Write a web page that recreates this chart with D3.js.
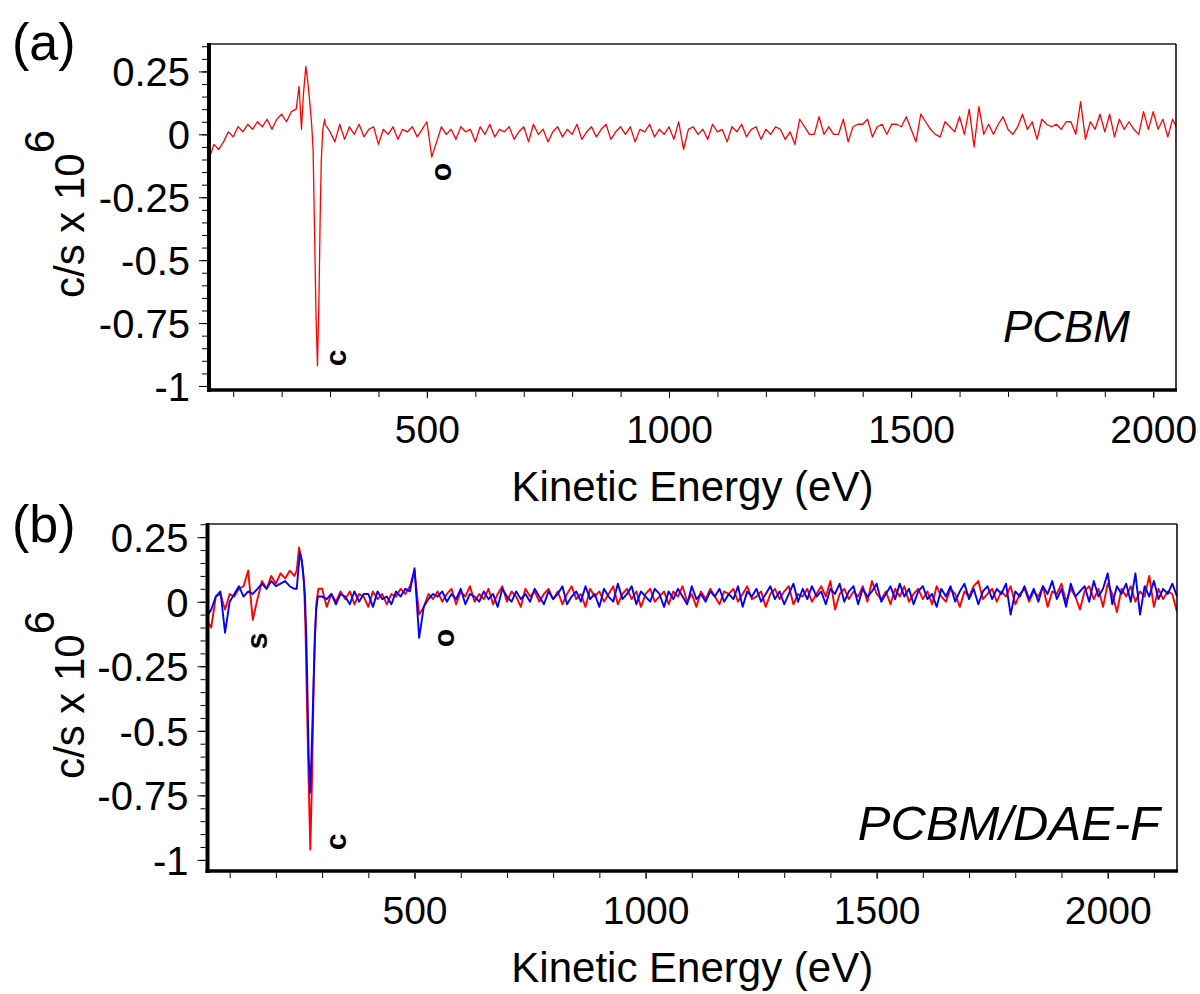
<!DOCTYPE html>
<html>
<head>
<meta charset="utf-8">
<script src="https://cdn.jsdelivr.net/npm/d3@7"></script>
<style>
    body { margin: 0; background: #fff; }
    svg text { font-family: "Liberation Sans", Arial, sans-serif; fill: #000; }
</style>
</head>
<body>
<svg id="chart" width="1200" height="994"></svg>
<script>
// energy grid of the sampled spectra (eV)
const gridStart = 50;
const gridStep = 10;

// (a) PCBM, one value per grid step, 50 .. 2050 eV
const pcbmValues = [
    -0.10, -0.04, -0.06, -0.03, 0.01, -0.01, 0.03, 0.01, 0.04, 0.02,
    0.05, 0.03, 0.06, 0.02, 0.06, 0.08, 0.05, 0.09, 0.10, 0.10,
    0.27, 0.14, -0.39, -0.66, 0.04, 0.01, -0.03, 0.04, -0.02, 0.03,
    0.00, 0.04, -0.01, 0.02, 0.03, -0.04, 0.02, 0.00, 0.03, -0.02,
    0.02, 0.01, 0.03, -0.01, 0.02, 0.05, -0.09, -0.03, 0.03, 0.00,
    0.02, -0.02, 0.03, 0.01, 0.02, -0.03, 0.03, 0.00, 0.04, -0.01,
    0.02, 0.01, 0.03, -0.02, 0.01, 0.03, -0.03, 0.04, 0.00, 0.02,
    -0.03, 0.01, 0.03, -0.01, 0.02, 0.00, 0.04, -0.02, 0.01, 0.03,
    -0.01, 0.02, 0.04, -0.02, 0.01, 0.03, 0.00, 0.03, -0.03, 0.02,
    0.01, 0.04, -0.01, 0.02, 0.00, 0.03, -0.02, 0.05, -0.06, 0.02,
    0.03, 0.00, 0.02, -0.02, 0.04, 0.01, 0.02, -0.03, 0.03, 0.01,
    0.04, -0.01, 0.02, 0.03, -0.02, 0.02, 0.00, 0.03, 0.02, -0.02,
    0.01, -0.04, 0.06, 0.03, 0.00, 0.00, 0.07, 0.00, 0.03, 0.00,
    0.00, 0.06, -0.03, 0.03, 0.04, 0.04, 0.06, -0.01, 0.03, 0.04,
    0.00, 0.04, 0.04, 0.03, 0.07, 0.02, -0.03, 0.08, 0.05, 0.02,
    0.00, -0.01, 0.05, 0.03, 0.01, 0.07, 0.00, 0.10, -0.05, 0.11,
    0.00, 0.04, 0.00, 0.04, 0.07, 0.02, 0.00, 0.03, 0.08, 0.02,
    0.05, -0.02, 0.06, 0.04, 0.03, 0.04, 0.02, 0.05, 0.05, 0.00,
    0.13, -0.02, 0.05, 0.02, 0.08, 0.01, 0.08, -0.01, 0.06, 0.02,
    0.05, 0.02, 0.00, 0.09, 0.02, 0.09, 0.02, 0.06, -0.01, 0.06,
    0.02
];
// finer points across the carbon edge [eV, value]
const pcbmEdge = [
    [236, 0.19], [241, 0.02], [245, 0.16], [250, 0.27], [254, 0.21], [258, 0.13],
    [262, 0.04], [265, -0.06], [268, -0.39], [271, -0.72], [274, -0.92], [277, -0.66],
    [280, -0.28], [282, -0.10], [285, 0.02], [289, 0.06]
];

// (b) PCBM/DAE-F, two scans, 50 .. 2150 eV
const redValues = [
    -0.07, -0.10, 0.02, 0.03, -0.03, 0.03, 0.02, 0.05, 0.06, 0.12,
    -0.07, 0.01, 0.08, 0.05, 0.10, 0.07, 0.11, 0.09, 0.12, 0.10,
    0.21, 0.13, -0.70, -0.40, 0.02, 0.05, -0.02, 0.03, 0.00, 0.04,
    0.01, 0.04, -0.01, 0.03, 0.02, -0.02, 0.04, 0.01, 0.03, -0.01,
    0.03, 0.02, 0.05, 0.03, 0.06, 0.12, -0.05, -0.02, 0.03, 0.01,
    0.04, 0.00, 0.03, 0.05, -0.01, 0.04, 0.02, 0.06, 0.00, 0.03,
    0.01, 0.05, -0.01, 0.03, 0.06, 0.00, 0.04, 0.02, -0.02, 0.05,
    0.02, 0.04, 0.00, 0.03, 0.05, 0.01, 0.04, -0.01, 0.03, 0.06,
    0.01, 0.03, -0.02, 0.05, 0.02, 0.04, 0.00, 0.03, 0.06, -0.01,
    0.03, 0.05, 0.01, 0.04, -0.02, 0.03, 0.05, 0.00, 0.02, 0.04,
    -0.01, 0.04, 0.02, 0.06, 0.00, 0.03, -0.02, 0.04, 0.01, 0.05,
    0.02, -0.01, 0.04, 0.03, 0.05, 0.00, 0.03, 0.06, 0.01, 0.02,
    0.04, -0.02, 0.03, 0.05, 0.01, 0.04, 0.06, -0.01, 0.03, 0.02,
    0.05, 0.00, 0.03, 0.06, 0.02, 0.08, -0.03, 0.03, 0.05, 0.01,
    0.04, 0.02, 0.06, 0.00, 0.08, 0.03, 0.01, 0.04, -0.01, 0.05,
    0.02, 0.06, 0.00, 0.03, 0.05, 0.01, 0.04, -0.01, 0.06, 0.02,
    0.00, 0.05, 0.03, -0.02, 0.04, 0.02, 0.06, 0.08, 0.01, 0.03,
    0.05, 0.00, 0.04, 0.02, 0.06, -0.01, 0.03, 0.05, 0.00, 0.04,
    0.02, 0.06, -0.02, 0.04, 0.03, 0.07, 0.00, 0.05, 0.02, -0.03,
    0.04, 0.06, 0.01, 0.05, -0.02, 0.07, 0.03, -0.04, 0.05, 0.02,
    0.06, 0.00, 0.04, 0.02, 0.10, -0.02, 0.05, 0.01, 0.04, 0.03,
    -0.04
];
const redEdge = [
    [245, 0.12], [250, 0.21], [254, 0.18], [258, 0.13], [261, 0.07], [264, -0.10],
    [267, -0.38], [271, -0.70], [274.5, -0.96], [278, -0.70], [282, -0.30], [285, -0.12],
    [288, 0.00], [292, 0.05]
];
const blueValues = [
    -0.06, -0.03, 0.02, 0.04, -0.12, 0.00, 0.03, 0.06, 0.02, 0.04,
    0.03, 0.05, 0.07, 0.05, 0.08, 0.06, 0.07, 0.08, 0.06, 0.05,
    0.19, 0.08, -0.32, -0.70, -0.15, 0.02, 0.01, 0.03, -0.01, 0.03,
    0.02, -0.01, 0.04, 0.00, 0.03, 0.03, -0.02, 0.04, 0.01, 0.02,
    -0.01, 0.04, 0.02, 0.05, 0.04, 0.13, -0.14, -0.02, 0.01, 0.03,
    0.02, 0.04, 0.00, 0.03, 0.01, 0.05, -0.01, 0.03, 0.02, 0.00,
    0.04, 0.01, 0.03, -0.02, 0.05, 0.02, 0.00, 0.04, 0.01, 0.03,
    0.00, 0.05, 0.02, -0.01, 0.04, 0.01, 0.03, 0.06, -0.01, 0.02,
    0.04, 0.00, 0.06, 0.01, 0.03, -0.02, 0.05, 0.02, 0.00, 0.07,
    0.01, 0.03, 0.06, -0.01, 0.04, 0.02, 0.00, 0.05, 0.03, -0.02,
    0.04, 0.01, 0.05, 0.02, -0.01, 0.06, 0.01, 0.03, 0.00, 0.04,
    0.02, 0.05, 0.00, 0.03, 0.01, 0.06, -0.02, 0.04, 0.02, 0.05,
    0.00, 0.03, 0.06, 0.01, 0.04, -0.01, 0.03, 0.07, 0.00, 0.05,
    0.01, 0.06, 0.02, 0.04, -0.01, 0.05, 0.03, 0.07, 0.00, 0.04,
    0.06, -0.01, 0.05, 0.02, 0.04, 0.07, 0.00, 0.03, 0.06, 0.01,
    0.07, 0.02, 0.05, -0.01, 0.04, 0.06, 0.01, 0.03, -0.02, 0.05,
    0.02, 0.06, 0.00, 0.04, 0.07, 0.01, 0.05, -0.01, 0.04, 0.06,
    0.01, 0.05, 0.03, 0.07, -0.05, 0.04, 0.02, 0.06, 0.01, 0.05,
    0.00, 0.06, 0.03, 0.08, 0.01, 0.05, -0.02, 0.07, 0.02, 0.04,
    0.06, 0.00, 0.08, 0.02, 0.05, 0.11, -0.01, 0.06, 0.03, 0.07,
    0.00, 0.11, -0.05, 0.06, 0.02, 0.08, 0.01, 0.05, 0.03, 0.07,
    0.02
];
const blueEdge = [
    [245, 0.05], [252, 0.19], [256, 0.16], [260, 0.09], [263, 0.02], [266, -0.15],
    [268, -0.32], [271, -0.60], [274, -0.74], [277, -0.60], [281, -0.35], [284, -0.15],
    [287, -0.03], [291, 0.02]
];

const yMajorTicks = [-1, -0.75, -0.5, -0.25, 0, 0.25];
const xMajorTicks = [500, 1000, 1500, 2000];
const xMinorTicks = [100, 200, 300, 400, 500, 600, 700, 800, 900, 1000, 1100,
    1200, 1300, 1400, 1500, 1600, 1700, 1800, 1900, 2000, 2100];

const font = '"Liberation Sans", Arial, sans-serif';
let svg = d3.select("#chart");

// grid points plus the finer edge points, edge range replaces the grid
function buildSeries(values, edge) {
    let lo = edge[0][0], hi = edge[edge.length - 1][0];
    let pts = values.map((v, i) => [gridStart + i * gridStep, v])
        .filter(p => p[0] < lo || p[0] > hi);
    return pts.concat(edge).sort((a, b) => a[0] - b[0]);
}

let panels = [
    {
        id: "a", tag: "(a)", tagY: 60,
        left: 209, right: 1176, top: 44, bottom: 390,
        xDomain: [50, 2047], yDomain: [-1.016, 0.359],
        series: [{data: buildSeries(pcbmValues, pcbmEdge), color: "#ff0000", width: 1.3}],
        sample: "PCBM", sampleX: 1130, sampleY: 342, sampleSize: 44,
        titleStart: 298,
        notes: [{t: "c", x: 338, y: 358}, {t: "o", x: 443, y: 172}]
    },
    {
        id: "b", tag: "(b)", tagY: 542,
        left: 207.5, right: 1177, top: 524, bottom: 871,
        xDomain: [52, 2150], yDomain: [-1.043, 0.301],
        series: [
            {data: buildSeries(redValues, redEdge), color: "#ff0000", width: 1.9},
            {data: buildSeries(blueValues, blueEdge), color: "#0000ff", width: 1.9}
        ],
        sample: "PCBM/DAE-F", sampleX: 1160, sampleY: 840, sampleSize: 49,
        titleStart: 779,
        notes: [{t: "s", x: 259, y: 641}, {t: "o", x: 446, y: 638}, {t: "c", x: 338, y: 842}]
    }
];

panels.forEach(drawPanel);

function drawPanel(p) {
    let x = d3.scaleLinear().domain(p.xDomain).range([p.left, p.right]);
    let y = d3.scaleLinear().domain(p.yDomain).range([p.bottom, p.top]);
    let g = svg.append("g");

    g.append("clipPath").attr("id", "clip-" + p.id)
        .append("rect")
        .attr("x", p.left).attr("y", p.top)
        .attr("width", p.right - p.left).attr("height", p.bottom - p.top);

    // spectra
    let line = d3.line().x(d => x(d[0])).y(d => y(d[1]));
    p.series.forEach(s => {
        g.append("path")
            .datum(s.data)
            .attr("clip-path", "url(#clip-" + p.id + ")")
            .attr("fill", "none")
            .attr("stroke", s.color)
            .attr("stroke-width", s.width)
            .attr("stroke-linejoin", "round")
            .attr("d", line);
    });

    // frame: thin top and right, heavy left and bottom axes
    g.append("line").attr("x1", p.left).attr("x2", p.right).attr("y1", p.top).attr("y2", p.top)
        .attr("stroke", "#555").attr("stroke-width", 2);
    g.append("line").attr("x1", p.right).attr("x2", p.right).attr("y1", p.top).attr("y2", p.bottom)
        .attr("stroke", "#000").attr("stroke-width", 1.5);
    g.append("line").attr("x1", p.left).attr("x2", p.left).attr("y1", p.top - 1).attr("y2", p.bottom + 2)
        .attr("stroke", "#000").attr("stroke-width", 4);
    g.append("line").attr("x1", p.left - 2).attr("x2", p.right + 1).attr("y1", p.bottom).attr("y2", p.bottom)
        .attr("stroke", "#000").attr("stroke-width", 3.5);

    // y ticks
    let yMinor = d3.range(-21, 8).map(k => k * 0.05)
        .filter(v => v >= p.yDomain[0] && v <= p.yDomain[1]);
    g.append("g")
        .attr("transform", "translate(" + (p.left - 2) + ",0)")
        .call(d3.axisLeft(y).tickValues(yMinor).tickSize(5).tickFormat(() => ""))
        .call(a => a.select(".domain").remove());
    let yAxis = g.append("g")
        .attr("transform", "translate(" + (p.left - 2) + ",0)")
        .call(d3.axisLeft(y).tickValues(yMajorTicks).tickSize(8).tickPadding(9)
            .tickFormat(d => d === 0 ? "0" : String(d)));
    yAxis.select(".domain").remove();
    yAxis.selectAll("text")
        .attr("dy", "0.36em")
        .style("font-size", "40px")
        .style("font-family", font);

    // x ticks
    g.append("g")
        .attr("transform", "translate(0," + (p.bottom + 2) + ")")
        .call(d3.axisBottom(x).tickValues(xMinorTicks.filter(v => v < p.xDomain[1])).tickSize(5).tickFormat(() => ""))
        .call(a => a.select(".domain").remove());
    let xAxis = g.append("g")
        .attr("transform", "translate(0," + (p.bottom + 2) + ")")
        .call(d3.axisBottom(x).tickValues(xMajorTicks).tickSize(6).tickFormat(d3.format("d")));
    xAxis.select(".domain").remove();
    xAxis.selectAll("text")
        .attr("y", 51).attr("dy", 0)
        .style("font-size", "39px")
        .style("font-family", font);

    // axis titles
    g.append("text")
        .attr("x", (p.left + p.right) / 2)
        .attr("y", p.bottom + 111)
        .attr("text-anchor", "middle")
        .style("font-size", "42px")
        .text("Kinetic Energy (eV)");

    let yt = g.append("text")
        .attr("transform", "translate(84," + p.titleStart + ") rotate(-90)")
        .style("font-size", "42px");
    yt.append("tspan").text("c/s x 10");
    yt.append("tspan").attr("dy", -30).text("6");

    // panel tag and sample name
    g.append("text")
        .attr("x", 12).attr("y", p.tagY)
        .style("font-size", "52px")
        .text(p.tag);
    g.append("text")
        .attr("x", p.sampleX).attr("y", p.sampleY)
        .attr("text-anchor", "end")
        .style("font-size", p.sampleSize + "px")
        .style("font-style", "italic")
        .text(p.sample);

    // element markers next to the edges
    p.notes.forEach(n => {
        g.append("text")
            .attr("transform", "translate(" + n.x + "," + n.y + ") rotate(-90)")
            .attr("text-anchor", "middle")
            .attr("dy", "0.26em")
            .style("font-size", "30px")
            .style("font-weight", "bold")
            .text(n.t);
    });
}
</script>
</body>
</html>
